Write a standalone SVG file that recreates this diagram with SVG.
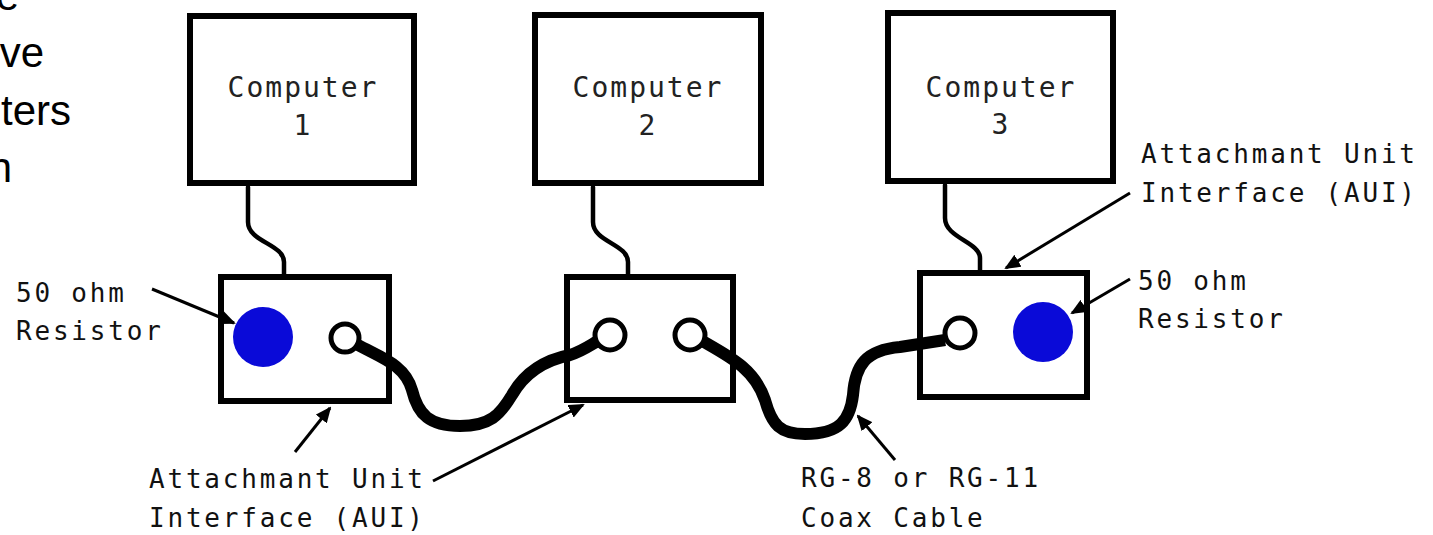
<svg xmlns="http://www.w3.org/2000/svg" width="1433" height="535" viewBox="0 0 1433 535">
<style>
.box{fill:#fff;stroke:#000;stroke-width:6}
.cord{fill:none;stroke:#000;stroke-width:4.5;stroke-linecap:round}
.cable{fill:none;stroke:#000;stroke-width:12;stroke-linecap:butt}
.ring{fill:#fff;stroke:#000;stroke-width:5}
.res{fill:#0a0ad8}
.arrow{fill:none;stroke:#000;stroke-width:3}
.ctext{font-family:"DejaVu Sans Mono",monospace;font-size:28px;letter-spacing:2px;fill:#222;text-anchor:middle}
.lbl{font-family:"DejaVu Sans Mono",monospace;font-size:26px;letter-spacing:2.8px;fill:#111}
.side{font-family:"Liberation Sans",Arial,sans-serif;font-size:42px;fill:#000;text-anchor:end}
</style>
<defs>
<marker id="ah" markerUnits="userSpaceOnUse" markerWidth="16" markerHeight="14" refX="14" refY="7" orient="auto">
<path d="M0,0 L16,7 L0,14 Z" fill="#000"/>
</marker>
</defs>
<rect width="1433" height="535" fill="#fff"/>
<g id="slide-text">
<text class="side" x="19" y="10">e</text>
<text class="side" x="44" y="67">ve</text>
<text class="side" x="71" y="125">ters</text>
<text class="side" x="12" y="182">n</text>
</g>
<g id="computer1">
<rect class="box" x="190" y="16" width="224" height="167"/>
<text class="ctext" x="303" y="97">Computer</text>
<text class="ctext" x="303" y="135">1</text>
</g>
<g id="computer2">
<rect class="box" x="535" y="15" width="226" height="168"/>
<text class="ctext" x="648" y="97">Computer</text>
<text class="ctext" x="648" y="135">2</text>
</g>
<g id="computer3">
<rect class="box" x="888" y="13" width="225" height="168"/>
<text class="ctext" x="1001" y="97">Computer</text>
<text class="ctext" x="1001" y="134">3</text>
</g>
<g id="aui1">
<rect class="box" x="221" y="277" width="168" height="124"/>
<circle class="res" cx="263" cy="337" r="30"/>
<circle class="ring" cx="345" cy="338" r="14"/>
</g>
<g id="aui2">
<rect class="box" x="567" y="277" width="166" height="123"/>
<circle class="ring" cx="610" cy="335" r="15"/>
<circle class="ring" cx="690" cy="335" r="15"/>
</g>
<g id="aui3">
<rect class="box" x="920" y="273" width="167" height="124"/>
<circle class="ring" cx="960" cy="333" r="15"/>
<circle class="res" cx="1043" cy="332" r="30"/>
</g>
<g id="connectors">
<path class="cord" d="M248,187 L248,222 C248,242 284,244 284,262 L284,274"/>
<path class="cord" d="M593,187 L593,222 C593,242 628,244 628,262 L628,274"/>
<path class="cord" d="M945,185 L945,218 C945,238 980,242 980,258 L980,270"/>
<path class="cable" d="M358,345 C382,358 405,365 412,390 C418,415 430,426 460,426 C490,426 500,415 512,395 C525,372 545,360 570,355 C580,352 586,348 596,342"/>
<path class="cable" d="M704,342 C732,358 755,370 765,400 C772,425 780,434 805,434 C840,434 850,420 853,395 C855,365 866,350 900,347 L945,340"/>
<line class="arrow" x1="152" y1="289" x2="234" y2="323" marker-end="url(#ah)"/>
<line class="arrow" x1="295" y1="452" x2="330" y2="408" marker-end="url(#ah)"/>
<line class="arrow" x1="433" y1="481" x2="583" y2="405" marker-end="url(#ah)"/>
<line class="arrow" x1="895" y1="460" x2="858" y2="416" marker-end="url(#ah)"/>
<line class="arrow" x1="1130" y1="193" x2="1006" y2="268" marker-end="url(#ah)"/>
<line class="arrow" x1="1130" y1="279" x2="1072" y2="313" marker-end="url(#ah)"/>
</g>
<g id="labels">
<text class="lbl" x="16" y="302">50 ohm</text>
<text class="lbl" x="16" y="340">Resistor</text>
<text class="lbl" x="149" y="488">Attachmant Unit</text>
<text class="lbl" x="149" y="527">Interface (AUI)</text>
<text class="lbl" x="801" y="487">RG-8 or RG-11</text>
<text class="lbl" x="801" y="527">Coax Cable</text>
<text class="lbl" x="1141" y="163">Attachmant Unit</text>
<text class="lbl" x="1141" y="202">Interface (AUI)</text>
<text class="lbl" x="1138" y="290">50 ohm</text>
<text class="lbl" x="1138" y="328">Resistor</text>
</g>
</svg>
